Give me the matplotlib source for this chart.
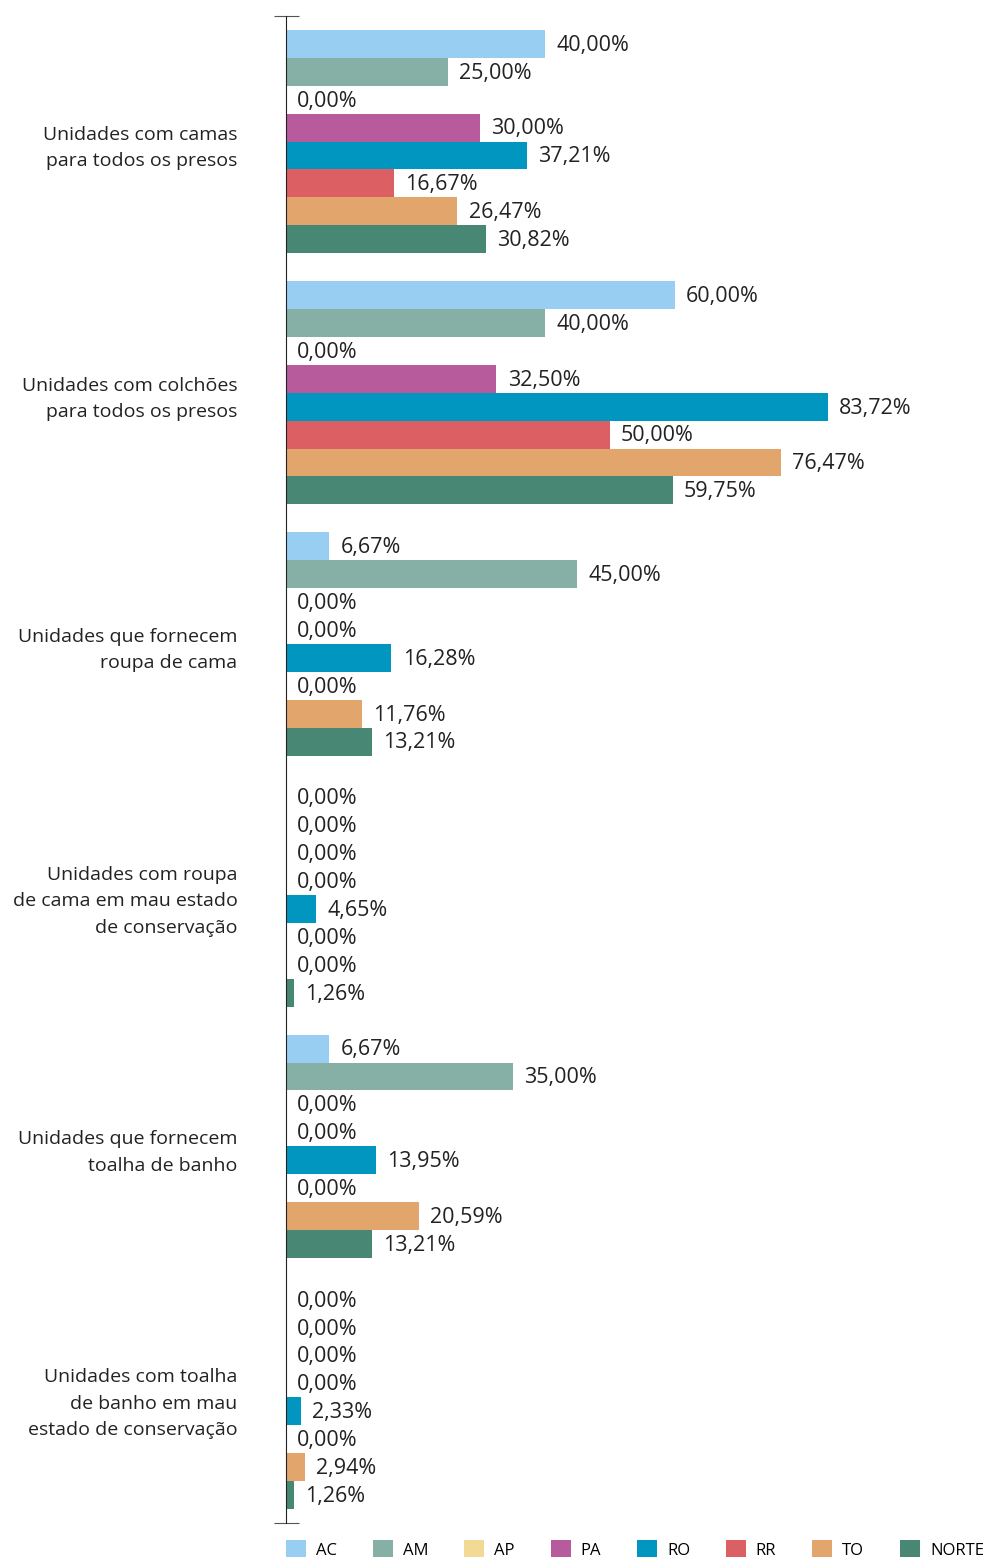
import matplotlib
matplotlib.use('Agg')
import matplotlib.pyplot as plt
from matplotlib.patches import Patch

#
# data
#
categories = [
    'Unidades com camas\npara todos os presos',
    'Unidades com colchões\npara todos os presos',
    'Unidades que fornecem\nroupa de cama',
    'Unidades com roupa\nde cama em mau estado\nde conservação',
    'Unidades que fornecem\ntoalha de banho',
    'Unidades com toalha\nde banho em mau\nestado de conservação',
]
series = ['AC', 'AM', 'AP', 'PA', 'RO', 'RR', 'TO', 'NORTE']
values = {
    'AC':    [40.00, 60.00, 6.67, 0.00, 6.67, 0.00],
    'AM':    [25.00, 40.00, 45.00, 0.00, 35.00, 0.00],
    'AP':    [0.00, 0.00, 0.00, 0.00, 0.00, 0.00],
    'PA':    [30.00, 32.50, 0.00, 0.00, 0.00, 0.00],
    'RO':    [37.21, 83.72, 16.28, 4.65, 13.95, 2.33],
    'RR':    [16.67, 50.00, 0.00, 0.00, 0.00, 0.00],
    'TO':    [26.47, 76.47, 11.76, 0.00, 20.59, 2.94],
    'NORTE': [30.82, 59.75, 13.21, 1.26, 13.21, 1.26],
}
colors = ['#97CEF2', '#86B0A5', '#F2DA95', '#B85B9D', '#0096BF', '#DC5F63', '#E2A66D', '#488774']

plt.rcParams['font.family'] = ['Open Sans', 'DejaVu Sans']

fig = plt.figure(figsize=(9.84, 15.61), dpi=100)
ax = fig.add_axes([0.2907, 0.0243, 0.658, 0.9655])

step = len(series) + 1
for j, s in enumerate(series):
    ys = [i * step + j for i in range(len(categories))]
    ax.barh(ys, values[s], height=1.0, color=colors[j], label=s)
    for y, v in zip(ys, values[s]):
        ax.annotate(('%.2f%%' % v).replace('.', ','), (v, y), xytext=(8, -1),
                    textcoords='offset points', va='center', ha='left',
                    fontsize=15.5, color='#222222')

ax.set_xlim(0, 100)
ax.set_ylim(len(categories) * step - 1, -1)

for sp in ['top', 'right', 'bottom']:
    ax.spines[sp].set_visible(False)
ax.spines['left'].set_color('#222222')
ax.set_xticks([])
ax.set_yticks([-1, len(categories) * step - 1])
ax.set_yticklabels(['', ''])
ax.tick_params(axis='y', which='major', direction='inout', length=18, color='#555555')
centers = [i * step + (len(series) - 1) / 2 for i in range(len(categories))]
ax.set_yticks(centers, minor=True)
ax.set_yticklabels(categories, minor=True, fontsize=14, color='#222222', ha='right',
                   linespacing=1.6)
ax.tick_params(axis='y', which='minor', length=0, pad=35)

handles = [Patch(facecolor=c, edgecolor='none') for c in colors]
fig.legend(handles, series, loc='center left', bbox_to_anchor=(0.2907, 0.0074), ncol=8,
           frameon=False, fontsize=12, handlelength=1.2, handleheight=1.2,
           handletextpad=0.6, columnspacing=2.15, borderaxespad=0, borderpad=0)

plt.savefig('out.png', dpi=100)
plt.close()
